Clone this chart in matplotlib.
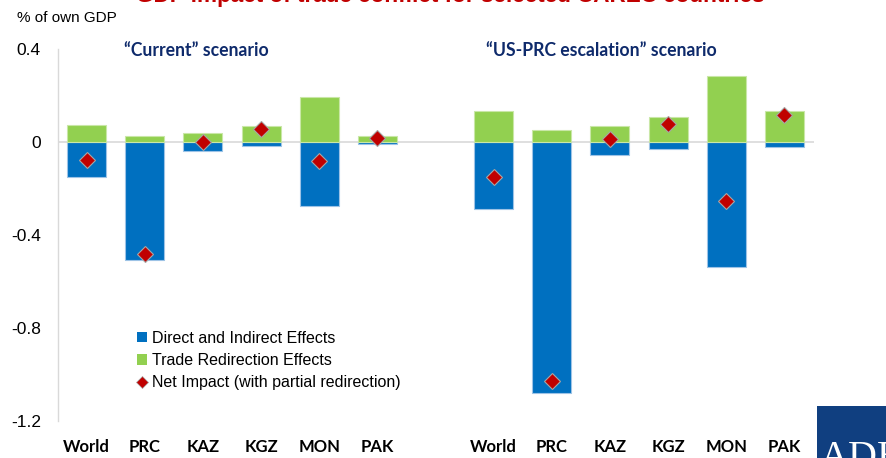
import matplotlib
matplotlib.use('Agg')
import matplotlib.pyplot as plt
from matplotlib.patches import Patch, Rectangle
from matplotlib.lines import Line2D
import numpy as np

# GDP impact (% of own GDP) by economy, two trade-conflict scenarios
categories = ['World', 'PRC', 'KAZ', 'KGZ', 'MON', 'PAK']
scenarios = ['\u201cCurrent\u201d scenario', '\u201cUS-PRC escalation\u201d scenario']

current_direct = [-0.149, -0.507, -0.039, -0.017, -0.275, -0.007]
current_redirect = [0.073, 0.026, 0.040, 0.070, 0.195, 0.026]
current_net = [-0.077, -0.482, 0.000, 0.055, -0.080, 0.019]

escalation_direct = [-0.287, -1.081, -0.057, -0.032, -0.536, -0.020]
escalation_redirect = [0.135, 0.052, 0.070, 0.109, 0.284, 0.135]
escalation_net = [-0.149, -1.028, 0.013, 0.077, -0.254, 0.116]

y_ticks = [0.4, 0, -0.4, -0.8, -1.2]
y_tick_labels = ['0.4', '0', '-0.4', '-0.8', '-1.2']

BLUE = '#0070C0'
GREEN = '#92D050'
RED = '#C00000'
NAVY = '#0E2A6B'

fig = plt.figure(figsize=(8.86, 4.58), dpi=100)
ax = fig.add_axes([57.5 / 886, 1 - 421 / 458, (813.5 - 57.5) / 886, (421 - 49) / 458])

x_cur = np.arange(len(categories))
x_esc = np.arange(len(categories)) + len(categories) + 1
width = 0.67

for xs, direct, redirect, net in [(x_cur, current_direct, current_redirect, current_net),
                                  (x_esc, escalation_direct, escalation_redirect, escalation_net)]:
    ax.bar(xs, direct, width, color=BLUE, edgecolor='#9DC3E6', linewidth=0.8, zorder=2)
    ax.bar(xs, redirect, width, color=GREEN, edgecolor='#C9E7A7', linewidth=0.8, zorder=2)
    ax.plot(xs, net, linestyle='none', marker='D', markersize=8.5, color=RED,
            markeredgecolor='#A6A6A6', markeredgewidth=0.8, zorder=3)

ax.axhline(0, color='#D9D9D9', linewidth=1.2, zorder=1)

ax.set_xlim(-0.5, x_esc[-1] + 0.5)
ax.set_ylim(-1.2, 0.4)
ax.set_yticks(y_ticks)
ax.set_yticklabels(y_tick_labels, fontsize=12.5, family='Liberation Sans')
ax.tick_params(axis='y', length=0, pad=12)

ax.set_xticks(list(x_cur) + list(x_esc))
ax.set_xticklabels(categories * 2, fontsize=12, family='Lato', fontweight='bold')
ax.tick_params(axis='x', length=0, pad=13)

for side in ['top', 'right', 'bottom']:
    ax.spines[side].set_visible(False)
ax.spines['left'].set_color('#D9D9D9')
ax.spines['left'].set_linewidth(1.0)

# scenario headers
ax.text(1.88, 0.395, scenarios[0], fontsize=12.7, family='Lato', fontweight='bold',
        color=NAVY, ha='center', va='center')
ax.text(8.85, 0.395, scenarios[1], fontsize=12.7, family='Lato', fontweight='bold',
        color=NAVY, ha='center', va='center')

handles = [Patch(facecolor=BLUE, edgecolor='none'),
           Patch(facecolor=GREEN, edgecolor='none'),
           Line2D([], [], linestyle='none', marker='D', markersize=6, color=RED,
                  markeredgecolor='#A6A6A6', markeredgewidth=0.5)]
labels = ['Direct and Indirect Effects', 'Trade Redirection Effects',
          'Net Impact (with partial redirection)']
fig.legend(handles, labels, loc='upper left', bbox_to_anchor=(137 / 886, 1 - 331 / 458),
           frameon=False, prop={'family': 'Liberation Sans', 'size': 11.5},
           handlelength=0.6, handleheight=0.6, handletextpad=0.35, labelspacing=0.45,
           borderpad=0, borderaxespad=0)

fig.text(17 / 886, 1 - 18 / 458, '% of own GDP', fontsize=11, family='Liberation Sans',
         ha='left', va='center')

# headline, mostly above the top edge
fig.text(450 / 886, 1 - 2 / 458, 'GDP impact of trade conflict for selected CAREC countries',
         fontsize=16.2, family='Liberation Sans', fontweight='bold', color=RED,
         ha='center', va='baseline')

# logo block
fig.patches.append(Rectangle((817 / 886, 0), 69 / 886, 52 / 458, transform=fig.transFigure,
                             facecolor='#103F80', edgecolor='none'))
fig.text(820 / 886, 1 - 468 / 458, 'ADB', fontsize=29, family='Liberation Serif',
         color='white', ha='left', va='baseline')

fig.savefig('out.png', dpi=100)
